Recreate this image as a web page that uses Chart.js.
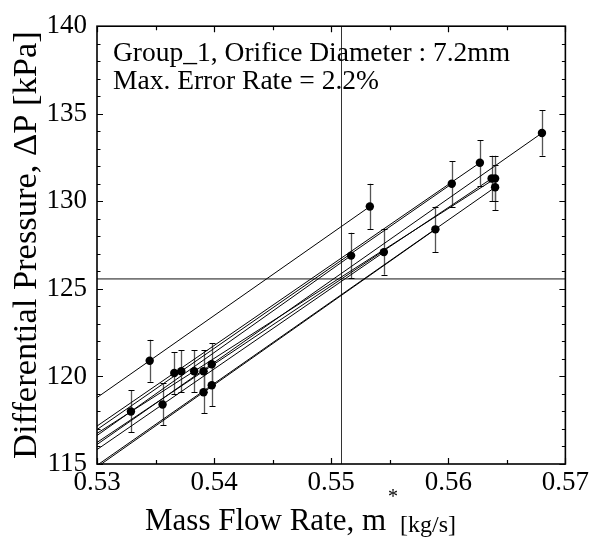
<!DOCTYPE html>
<html>
<head>
<meta charset="utf-8">
<script src="https://cdn.jsdelivr.net/npm/chart.js@4"></script>
<style>
  html, body { margin: 0; padding: 0; background: #fff; }
  #wrap { width: 592px; height: 540px; }
</style>
</head>
<body>
<div id="wrap"><canvas id="c" width="592" height="540"></canvas></div>
<script>
// ---- data ----
const lowX  = [0.5345, 0.5329, 0.5356, 0.5391, 0.5398, 0.5366, 0.5372, 0.5398, 0.5383, 0.5391];
const lowY  = [120.9, 118.0, 118.4, 119.1, 119.5, 120.2, 120.3, 120.7, 120.3, 120.3];
const highX = [0.5533, 0.5517, 0.5545, 0.5589, 0.5640, 0.5627, 0.5603, 0.5680, 0.5640, 0.5637];
const highY = [129.7, 126.9, 127.1, 128.4, 130.8, 132.2, 131.0, 133.9, 131.3, 131.3];
const lowErr  = [1.2, 1.2, 1.2, 1.2, 1.2, 1.2, 1.2, 1.2, 1.2, 1.2];
const highErr = [1.3, 1.3, 1.3, 1.3, 1.3, 1.3, 1.3, 1.3, 1.3, 1.3];
const refX = [0.5508];
const refY = [125.57];
const xTicks = [0.53, 0.54, 0.55, 0.56, 0.57];
const yTicks = [115, 120, 125, 130, 135, 140];
const noteLines = ['Group_1, Orifice Diameter : 7.2mm', 'Max. Error Rate = 2.2%'];

const X_MIN = xTicks[0], X_MAX = xTicks[xTicks.length - 1];
const Y_MIN = yTicks[0], Y_MAX = yTicks[yTicks.length - 1];
const FONT = "'Liberation Serif', 'Times New Roman', serif";

// points dataset
const pts = [];
for (let i = 0; i < lowX.length; i++) {
  pts.push({x: lowX[i], y: lowY[i], e: lowErr[i]});
  pts.push({x: highX[i], y: highY[i], e: highErr[i]});
}
// fit line through each run's pair of points, extended back to the axis start
const lineSets = lowX.map((lx, i) => {
  const k = (highY[i] - lowY[i]) / (highX[i] - lx);
  return {
    type: 'scatter', showLine: true, pointRadius: 0, borderColor: '#000',
    borderWidth: 1, fill: false, clip: 0,
    data: [{x: X_MIN, y: lowY[i] + k * (X_MIN - lx)}, {x: highX[i], y: highY[i]}]
  };
});

const decor = {
  id: 'decor',
  beforeDatasetsDraw(chart) {
    const {ctx, chartArea: a, scales: {x, y}} = chart;
    ctx.save();
    ctx.beginPath(); ctx.rect(a.left, a.top, a.right - a.left, a.bottom - a.top); ctx.clip();
    // reference lines
    ctx.strokeStyle = '#777'; ctx.lineWidth = 1.6;
    const hy = y.getPixelForValue(refY[0]);
    ctx.beginPath(); ctx.moveTo(a.left, hy); ctx.lineTo(a.right, hy); ctx.stroke();
    ctx.strokeStyle = '#333'; ctx.lineWidth = 1;
    const vx = Math.round(x.getPixelForValue(refX[0])) + 0.5;
    ctx.beginPath(); ctx.moveTo(vx, a.top); ctx.lineTo(vx, a.bottom); ctx.stroke();
    // error bars
    pts.forEach(p => {
      const px = Math.round(x.getPixelForValue(p.x)) + 0.5;
      const t = y.getPixelForValue(p.y + p.e), b = y.getPixelForValue(p.y - p.e);
      ctx.strokeStyle = '#555'; ctx.lineWidth = 1.3;
      ctx.beginPath(); ctx.moveTo(px, t); ctx.lineTo(px, b); ctx.stroke();
      ctx.strokeStyle = '#000'; ctx.lineWidth = 1;
      ctx.beginPath();
      ctx.moveTo(px - 3, Math.round(t) + 0.5); ctx.lineTo(px + 3, Math.round(t) + 0.5);
      ctx.moveTo(px - 3, Math.round(b) + 0.5); ctx.lineTo(px + 3, Math.round(b) + 0.5);
      ctx.stroke();
    });
    ctx.restore();
  },
  afterDraw(chart) {
    const {ctx, chartArea: a, scales: {x, y}} = chart;
    ctx.save();
    // frame
    ctx.strokeStyle = '#000'; ctx.lineWidth = 1.6;
    ctx.strokeRect(a.left, a.top, a.right - a.left, a.bottom - a.top);
    // inward ticks on all sides
    ctx.lineWidth = 1.2;
    ctx.beginPath();
    for (let v = Y_MIN; v <= Y_MAX + 1e-9; v += 1) {
      const py = Math.round(y.getPixelForValue(v)) + 0.5;
      const len = (Math.round(v) % 5 === 0) ? 6 : 3.5;
      ctx.moveTo(a.left, py); ctx.lineTo(a.left + len, py);
      ctx.moveTo(a.right, py); ctx.lineTo(a.right - len, py);
    }
    for (let i = 0; i <= 8; i++) {
      const v = X_MIN + i * 0.005;
      const px = Math.round(x.getPixelForValue(v)) + 0.5;
      const len = (i % 2 === 0) ? 6 : 4;
      ctx.moveTo(px, a.bottom); ctx.lineTo(px, a.bottom - len);
      ctx.moveTo(px, a.top); ctx.lineTo(px, a.top + len);
    }
    ctx.stroke();
    // annotation
    ctx.fillStyle = '#000';
    ctx.textBaseline = 'alphabetic'; ctx.textAlign = 'left';
    ctx.font = '27.5px ' + FONT;
    ctx.fillText(noteLines[0], 113, 61);
    ctx.fillText(noteLines[1], 113, 89);
    // x title
    ctx.font = '31px ' + FONT;
    const t1 = 'Mass Flow Rate, m';
    const w1 = ctx.measureText(t1).width;
    const sx = 145;
    ctx.fillText(t1, sx, 530);
    ctx.font = '20px ' + FONT;
    ctx.fillText('*', sx + w1 + 2, 503);
    ctx.font = '24px ' + FONT;
    ctx.fillText('[kg/s]', sx + w1 + 14, 532);
    // y title
    ctx.font = '34.5px ' + FONT;
    ctx.translate(27, (a.top + a.bottom) / 2);
    ctx.rotate(-Math.PI / 2);
    ctx.textAlign = 'center'; ctx.textBaseline = 'middle';
    ctx.fillText('Differential Pressure, \u0394P [kPa]', 0, 0);
    ctx.restore();
  }
};

new Chart(document.getElementById('c'), {
  type: 'scatter',
  data: {
    datasets: [
      ...lineSets,
      {
        type: 'scatter', data: pts, pointRadius: 4.2, pointHoverRadius: 4.2,
        backgroundColor: '#000', borderColor: '#000', borderWidth: 0, showLine: false
      }
    ]
  },
  options: {
    responsive: false, animation: false, devicePixelRatio: 1,
    layout: {padding: {top: 21, right: 26, left: 0, bottom: 0}},
    plugins: {legend: {display: false}, tooltip: {enabled: false}, title: {display: false}},
    scales: {
      x: {
        type: 'linear', min: X_MIN, max: X_MAX,
        afterBuildTicks: s => { s.ticks = xTicks.map(v => ({value: v})); },
        afterFit: s => { s.height = 76; },
        grid: {display: false, drawTicks: false},
        border: {display: false},
        ticks: {padding: 3, color: '#000', font: {family: FONT, size: 27},
                callback: v => v.toFixed(2), maxRotation: 0, autoSkip: false}
      },
      y: {
        type: 'linear', min: Y_MIN, max: Y_MAX,
        afterBuildTicks: s => { s.ticks = yTicks.map(v => ({value: v})); },
        afterFit: s => { s.width = 97; },
        grid: {display: false, drawTicks: false},
        border: {display: false},
        ticks: {padding: 10, color: '#000', font: {family: FONT, size: 27}, autoSkip: false}
      }
    }
  },
  plugins: [decor]
});
</script>
</body>
</html>
